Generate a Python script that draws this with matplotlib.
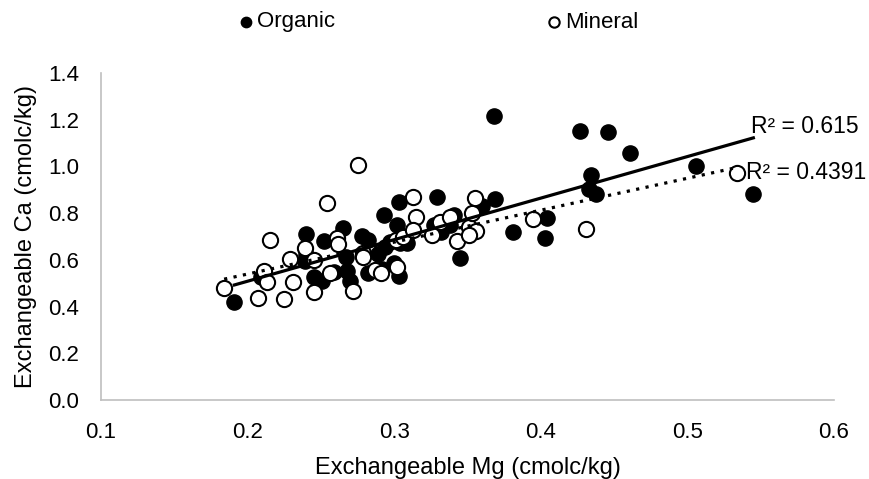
import numpy as np
import matplotlib
matplotlib.use("Agg")
import matplotlib.pyplot as plt

plt.rcParams['font.family'] = ['Liberation Sans', 'DejaVu Sans']

# Organic samples (filled)
org_mg = [0.191, 0.209, 0.240, 0.252, 0.240, 0.239, 0.245, 0.251, 0.265, 0.267,
          0.259, 0.268, 0.270, 0.278, 0.282, 0.282, 0.289, 0.292, 0.293, 0.294,
          0.302, 0.303, 0.300, 0.303, 0.304, 0.309, 0.297, 0.329, 0.327, 0.332,
          0.338, 0.341, 0.345, 0.360, 0.369, 0.368, 0.381, 0.404, 0.403, 0.427,
          0.434, 0.433, 0.438, 0.446, 0.461, 0.506, 0.545]
org_ca = [0.420, 0.527, 0.711, 0.681, 0.621, 0.595, 0.527, 0.509, 0.736, 0.612,
          0.548, 0.552, 0.509, 0.702, 0.685, 0.544, 0.625, 0.561, 0.792, 0.655,
          0.749, 0.848, 0.586, 0.531, 0.672, 0.672, 0.676, 0.869, 0.749, 0.719,
          0.749, 0.792, 0.608, 0.830, 0.860, 1.216, 0.719, 0.779, 0.693, 1.152,
          0.963, 0.903, 0.882, 1.147, 1.057, 1.002, 0.882]

# Mineral samples (open)
min_mg = [0.184, 0.207, 0.211, 0.213, 0.215, 0.225, 0.229, 0.231, 0.239, 0.245,
          0.245, 0.254, 0.261, 0.262, 0.256, 0.272, 0.275, 0.279, 0.279, 0.287,
          0.291, 0.302, 0.301, 0.306, 0.313, 0.315, 0.313, 0.326, 0.331, 0.338,
          0.343, 0.351, 0.356, 0.351, 0.353, 0.355, 0.395, 0.431, 0.534]
min_ca = [0.479, 0.437, 0.552, 0.505, 0.685, 0.432, 0.604, 0.505, 0.651, 0.599,
          0.462, 0.843, 0.693, 0.668, 0.544, 0.467, 1.006, 0.629, 0.612, 0.557,
          0.544, 0.569, 0.685, 0.698, 0.869, 0.783, 0.728, 0.706, 0.762, 0.783,
          0.681, 0.741, 0.723, 0.706, 0.801, 0.865, 0.775, 0.732, 0.972]

r2_labels = ["R² = 0.615", "R² = 0.4391"]

fig = plt.figure(figsize=(8.69, 4.79), dpi=100)
ax = fig.add_axes([0.1162, 0.1649, 0.8435, 0.6827])

ax.scatter(org_mg, org_ca, s=120, c='black', edgecolors='black', linewidths=1.0,
           label='Organic', zorder=3)
ax.scatter(min_mg, min_ca, s=120, facecolors='white', edgecolors='black', linewidths=1.5,
           label='Mineral', zorder=3)

# linear trendlines, spanning each series
for xs, ys, style in [(org_mg, org_ca, '-'), (min_mg, min_ca, (0, (1, 2)))]:
    xs = np.array(xs)
    k, b = np.polyfit(xs, ys, 1)
    xx = np.array([xs.min(), xs.max()])
    ax.plot(xx, k * xx + b, color='black', lw=2.3, linestyle=style, zorder=4)

ax.text(0.5433, 1.169, r2_labels[0], fontsize=16.5, ha='left', va='center', clip_on=False)
ax.text(0.540, 0.976, r2_labels[1], fontsize=16.5, ha='left', va='center', clip_on=False)

ax.set_xlim(0.1, 0.6)
ax.set_ylim(0.0, 1.4)
ax.set_xticks(np.arange(0.1, 0.61, 0.1))
ax.set_yticks(np.arange(0.0, 1.41, 0.2))
ax.set_xticklabels(['%.1f' % v for v in np.arange(0.1, 0.61, 0.1)])
ax.set_yticklabels(['%.1f' % v for v in np.arange(0.0, 1.41, 0.2)])
ax.tick_params(length=0, labelsize=16)
ax.tick_params(axis='x', pad=16)
ax.tick_params(axis='y', pad=16)

for s in ['top', 'right']:
    ax.spines[s].set_visible(False)
for s in ['left', 'bottom']:
    ax.spines[s].set_color('#bfbfbf')
    ax.spines[s].set_linewidth(1.2)

ax.set_xlabel('Exchangeable Mg (cmolc/kg)', fontsize=17, labelpad=10)
ax.set_ylabel('Exchangeable Ca (cmolc/kg)', fontsize=17, labelpad=8)

fig.legend(loc='center', bbox_to_anchor=(0.503, 1 - 22 / 479), ncol=2, frameon=False,
           fontsize=16, markerscale=0.68, handletextpad=0.05, handlelength=0.9,
           columnspacing=9.4)

fig.savefig('out.png', dpi=100)
